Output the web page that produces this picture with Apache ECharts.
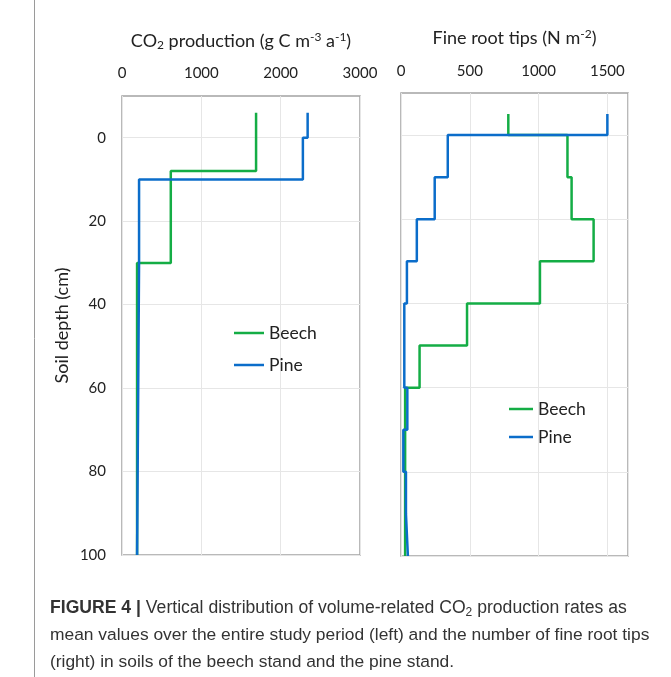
<!DOCTYPE html>
<html>
<head>
<meta charset="utf-8">
<script src="https://cdn.jsdelivr.net/npm/echarts@6/dist/echarts.min.js"></script>
<style>
html,body{margin:0;padding:0;background:#fff;}
#c{width:671px;height:677px;}
</style>
</head>
<body>
<div id="c"></div>
<script>
// ---- data ----
// Left panel: CO2 production (g C m-3 a-1) by soil depth layers (cm)
const co2BeechDepth = [-6, 8, 30, 100];
const co2BeechValue = [1690, 615, 190];
const co2PineDepth = [-6, 0, 10, 30, 100];
const co2PineValue = [2340, 2280, 215, 190];
// Right panel: fine root tips (N m-2)
const rootBeechDepth = [-5, 0, 10, 20, 30, 40, 50, 60, 100];
const rootBeechValue = [780, 1210, 1240, 1400, 1010, 480, 135, 30];
const rootPineDepth = [-5, 0, 10, 20, 30, 40, 60, 70, 80, 90, 100];
const rootPineValue = [1500, 340, 245, 115, 43, 24, 46, 17, 36, 50];
const seriesNames = ['Beech', 'Pine'];
const depthTicks = [0, 20, 40, 60, 80, 100];

function profile(depths, values) {
  const pts = [];
  for (let i = 0; i < values.length; i++) {
    pts.push([values[i], depths[i]]);
    pts.push([values[i], depths[i + 1]]);
  }
  return pts;
}

const GREEN = '#14ad45';
const BLUE = '#0b6dca';
const FONT = 'Lato';
const TXT = '#222';
const NAME_FS = 18;

const richName = {
  n: {fontSize: NAME_FS, fontFamily: FONT, color: TXT},
  sub: {fontSize: 12, fontFamily: FONT, color: TXT, verticalAlign: 'bottom'},
  sup: {fontSize: 12, fontFamily: FONT, color: TXT, verticalAlign: 'top'}
};

const chart = echarts.init(document.getElementById('c'), null, {renderer: 'canvas'});

function xAxisCfg(idx, max, name) {
  return {
    type: 'value', gridIndex: idx, position: 'top', min: 0, max: max, interval: idx === 0 ? 1000 : 500,
    name: name, nameLocation: 'middle', nameGap: idx === 0 ? 45 : 45,
    nameTextStyle: {fontSize: NAME_FS, fontFamily: FONT, color: TXT, lineHeight: 20, rich: richName},
    axisLine: {show: false}, axisTick: {show: false},
    axisLabel: {fontSize: 15, fontFamily: FONT, color: TXT, margin: idx === 0 ? 15 : 14, showMaxLabel: idx === 0,
      formatter: v => String(v)},
    splitLine: {show: true, lineStyle: {color: '#e6e6e6', width: 1}}
  };
}
function yAxisCfg(idx) {
  return {
    type: 'value', gridIndex: idx, inverse: true, min: -10, max: 100, interval: 10,
    name: idx === 0 ? 'Soil depth (cm)' : '', nameLocation: 'middle', nameGap: 51,
    nameTextStyle: {fontSize: NAME_FS, fontFamily: FONT, color: TXT},
    axisLine: {show: false}, axisTick: {show: false},
    axisLabel: {show: idx === 0, fontSize: 15, fontFamily: FONT, color: TXT, margin: 16,
      formatter: v => depthTicks.indexOf(v) >= 0 ? String(v) : ''},
    splitLine: {show: true, lineStyle: {color: ['rgba(0,0,0,0)', '#e6e6e6'], width: 1}}
  };
}

const option = {
  backgroundColor: '#fff',
  animation: false,
  grid: [
    {left: 122, top: 96, width: 238, height: 459, show: true, borderColor: '#a3a3a3', borderWidth: 1.5, backgroundColor: '#fff'},
    {left: 401, top: 93, width: 227, height: 463, show: true, borderColor: '#a3a3a3', borderWidth: 1.5, backgroundColor: '#fff'}
  ],
  xAxis: [
    xAxisCfg(0, 3000, '{n|CO}{sub|2}{n| production (g C m}{sup|-3}{n| a}{sup|-1}{n|)}'),
    xAxisCfg(1, 1650, '{n|Fine root tips (N m}{sup|-2}{n|)}')
  ],
  yAxis: [yAxisCfg(0), yAxisCfg(1)],
  legend: [
    {data: seriesNames, orient: 'vertical', left: 229, top: 318, itemWidth: 30, itemHeight: 2.5, itemGap: 12,
     icon: 'rect', textStyle: {fontSize: 17.5, fontFamily: FONT, color: TXT, lineHeight: 20}},
    {data: seriesNames, orient: 'vertical', left: 504, top: 394, itemWidth: 24, itemHeight: 2.5, itemGap: 8,
     icon: 'rect', textStyle: {fontSize: 17.5, fontFamily: FONT, color: TXT, lineHeight: 20}}
  ],
  series: [
    {name: 'Beech', type: 'line', xAxisIndex: 0, yAxisIndex: 0, data: profile(co2BeechDepth, co2BeechValue),
     symbol: 'none', lineStyle: {color: GREEN, width: 2.5}, itemStyle: {color: GREEN}},
    {name: 'Pine', type: 'line', xAxisIndex: 0, yAxisIndex: 0, data: profile(co2PineDepth, co2PineValue),
     symbol: 'none', lineStyle: {color: BLUE, width: 2.5}, itemStyle: {color: BLUE}},
    {name: 'Beech', type: 'line', xAxisIndex: 1, yAxisIndex: 1, data: profile(rootBeechDepth, rootBeechValue),
     symbol: 'none', lineStyle: {color: GREEN, width: 2.5}, itemStyle: {color: GREEN}},
    {name: 'Pine', type: 'line', xAxisIndex: 1, yAxisIndex: 1, data: profile(rootPineDepth, rootPineValue),
     symbol: 'none', lineStyle: {color: BLUE, width: 2.5}, itemStyle: {color: BLUE}}
  ],
  graphic: [
    {type: 'line', shape: {x1: 34.5, y1: 0, x2: 34.5, y2: 677}, style: {stroke: '#9a9a9a', lineWidth: 1}, silent: true},
    {type: 'text', left: 50, top: 599, style: {
      text: '{b|FIGURE 4 |}{t| Vertical distribution of volume-related CO}{s|2}{t| production rates as}',
      rich: {
        b: {fontFamily: 'Liberation Sans', fontSize: 17.6, fontWeight: 'bold', fill: '#333', lineHeight: 22},
        t: {fontFamily: 'Liberation Sans', fontSize: 17.6, fill: '#333', lineHeight: 22},
        s: {fontFamily: 'Liberation Sans', fontSize: 12, fill: '#333', lineHeight: 22, verticalAlign: 'bottom'}
      }}},
    {type: 'text', left: 50, top: 627, style: {
      text: 'mean values over the entire study period (left) and the number of fine root tips',
      fontFamily: 'Liberation Sans', fontSize: 17.4, fill: '#333'}},
    {type: 'text', left: 50, top: 654, style: {
      text: '(right) in soils of the beech stand and the pine stand.',
      fontFamily: 'Liberation Sans', fontSize: 17.4, fill: '#333'}}
  ]
};
chart.setOption(option);
</script>
</body>
</html>
